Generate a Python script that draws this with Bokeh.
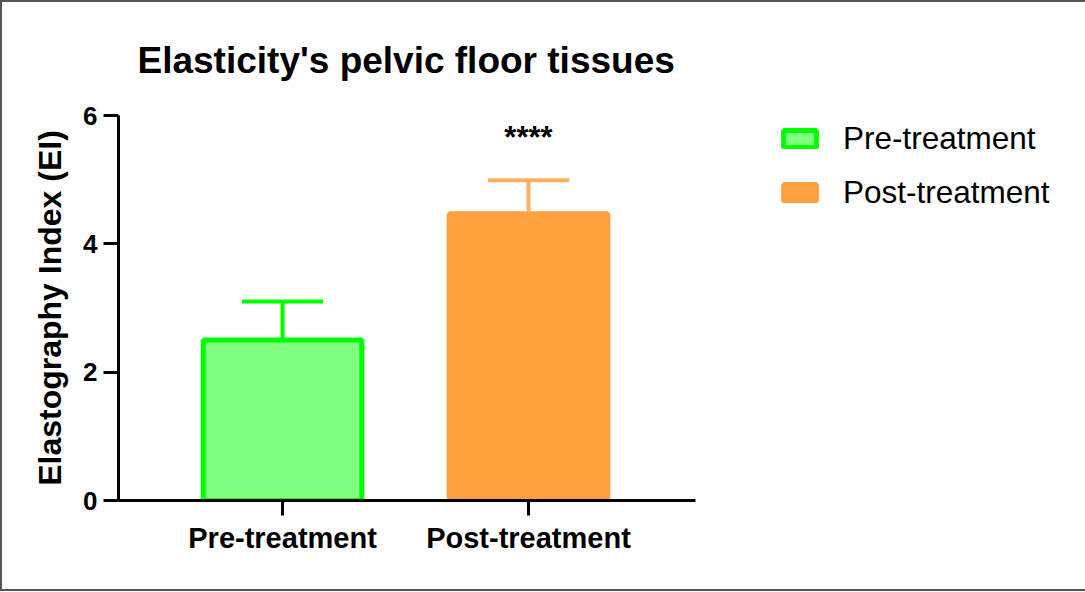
from bokeh.plotting import figure
from bokeh.models import ColumnDataSource, Range1d, FixedTicker, Legend, LegendItem
from bokeh.embed import file_html
from bokeh.resources import INLINE
from bokeh.core.properties import value

# ---- data ----
groups = ["Pre-treatment", "Post-treatment"]
x_pos = [1, 2]
means = [2.5, 4.47]
sds = [0.6, 0.52]
fill_colors = ["#80FF80", "#FFA040"]
line_colors = ["#00FF00", "#FFA040"]
err_colors = ["#00FF00", "#FFB05E"]
sig_labels = ["", "****"]
sig_y = [5.66, 5.66]
y_ticks = [0, 2, 4, 6]

FONT = "Liberation Sans"

upper = [m + s for m, s in zip(means, sds)]
cap_half = 0.165

src = ColumnDataSource(dict(
    x=x_pos, mean=means, upper=upper, label=groups,
    fill=fill_colors, line=line_colors, ecol=err_colors,
    cap_l=[x - cap_half for x in x_pos], cap_r=[x + cap_half for x in x_pos],
    sig=sig_labels, sig_y=sig_y,
))

p = figure(frame_width=577, frame_height=385, output_backend="svg", toolbar_location=None,
           x_range=Range1d(0.333, 2.679), y_range=Range1d(0, 6),
           min_border_left=116, min_border_right=20, min_border_top=112, min_border_bottom=89,
           title="Elasticity's pelvic floor tissues")
p.styles = {"border": "2px solid #555555"}
p.grid.visible = False
p.outline_line_color = None
p.background_fill_color = "white"
p.border_fill_color = "white"

p.title.text_font = FONT
p.title.text_font_size = "37px"
p.title.text_font_style = "bold"
p.title.text_color = "black"
p.title.align = "left"
p.title.offset = 19
p.title.standoff = 70

bars = p.vbar(x="x", top="mean", bottom=0, width=0.645, source=src,
              fill_color="fill", line_color="line", line_width=5)

p.segment(x0="x", y0="mean", x1="x", y1="upper", source=src, line_color="ecol", line_width=4)
p.segment(x0="cap_l", y0="upper", x1="cap_r", y1="upper", source=src, line_color="ecol", line_width=4)

p.text(x="x", y="sig_y", text="sig", source=src, text_font=value(FONT), text_font_size="31px",
       text_font_style="bold", text_align="center", text_baseline="alphabetic", text_color="black")

# axes
for ax in (p.xaxis[0], p.yaxis[0]):
    ax.axis_line_width = 3
    ax.axis_line_color = "black"
    ax.major_tick_line_width = 3
    ax.major_tick_line_color = "black"
    ax.major_tick_out = 15
    ax.major_tick_in = 0
    ax.minor_tick_line_color = None
    ax.major_label_text_font = FONT
    ax.major_label_text_font_style = "bold"
    ax.major_label_text_color = "black"

p.xaxis.ticker = FixedTicker(ticks=x_pos)
p.xaxis.major_label_overrides = {x: g for x, g in zip(x_pos, groups)}
p.xaxis.major_label_text_font_size = "29px"
p.xaxis.major_label_standoff = 6

p.yaxis.ticker = FixedTicker(ticks=y_ticks)
p.yaxis.major_label_text_font_size = "26px"
p.yaxis.major_label_standoff = 6
p.yaxis.axis_label = "Elastography Index (EI)"
p.yaxis.axis_label_text_font = FONT
p.yaxis.axis_label_text_font_size = "32px"
p.yaxis.axis_label_text_font_style = "bold"
p.yaxis.axis_label_text_color = "black"
p.yaxis.axis_label_standoff = 12

legend = Legend(items=[LegendItem(label=g, renderers=[bars], index=i) for i, g in enumerate(groups)],
                location=(84, 289))
legend.glyph_width = 41
legend.glyph_height = 21
legend.label_standoff = 23
legend.spacing = 17
legend.padding = 0
legend.margin = 0
legend.border_line_color = None
legend.background_fill_alpha = 0
legend.label_text_font = FONT
legend.label_text_font_size = "31.5px"
legend.label_text_color = "black"
p.add_layout(legend, "right")

open("out.html", "w").write(file_html(p, INLINE))
